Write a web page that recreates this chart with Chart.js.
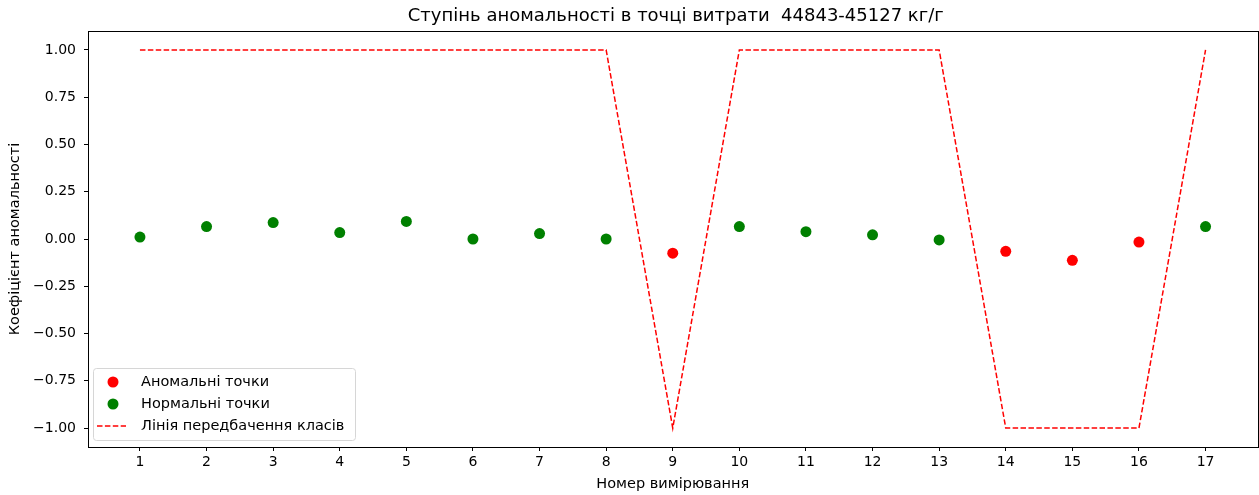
<!DOCTYPE html>
<html>
<head>
<meta charset="utf-8">
<script src="https://cdn.jsdelivr.net/npm/chart.js@4"></script>
<style>
  html, body { margin: 0; padding: 0; background: #fff; overflow: hidden; }
  #wrap { width: 1263px; height: 495px; position: relative; }
</style>
</head>
<body>
<div id="wrap"><canvas id="chart"></canvas></div>
<script>
(function () {
    'use strict';

    const TITLE = 'Ступінь аномальності в точці витрати  44843-45127 кг/г';
    const measurements = [1, 2, 3, 4, 5, 6, 7, 8, 9, 10, 11, 12, 13, 14, 15, 16, 17];
    const anomalyScores = [0.01, 0.066, 0.087, 0.034, 0.093, 0.0, 0.029, 0.0, -0.075, 0.066, 0.039, 0.022, -0.005, -0.065, -0.113, -0.016, 0.066];
    const predictedClass = [1, 1, 1, 1, 1, 1, 1, 1, -1, 1, 1, 1, 1, -1, -1, -1, 1];
    const yTicks = [-1.0, -0.75, -0.5, -0.25, 0.0, 0.25, 0.5, 0.75, 1.0];

    const FONT = "'DejaVu Sans', sans-serif";
    const RED = 'rgb(255, 0, 0)';
    const GREEN = 'rgb(0, 128, 0)';

    const anomalous = [];
    const normal = [];
    measurements.forEach(function (m, i) {
        const p = { x: m, y: anomalyScores[i] };
        if (predictedClass[i] === -1) anomalous.push(p); else normal.push(p);
    });
    const predLine = measurements.map((m, i) => ({ x: m, y: predictedClass[i] }));

    // рамка і заголовок по центру області графіка
    const frame = {
        id: 'frame',
        afterDatasetsDraw(chart) {
            const a = chart.chartArea;
            const ctx = chart.ctx;
            ctx.save();
            ctx.strokeStyle = '#000';
            ctx.lineWidth = 1;
            ctx.strokeRect(Math.round(a.left) + 0.5, Math.round(a.top) + 0.5, Math.round(a.right - a.left), Math.round(a.bottom - a.top));
            ctx.font = '18px ' + FONT;
            ctx.fillStyle = '#000';
            ctx.textAlign = 'center';
            ctx.textBaseline = 'middle';
            ctx.fillText(TITLE, (a.left + a.right) / 2 + 3, 16);
            ctx.restore();
        }
    };

    const legendBox = {
        id: 'legendBox',
        afterDraw(chart) {
            const a = chart.chartArea;
            const ctx = chart.ctx;
            const x = a.left + 5, y = a.bottom - 79, w = 262, h = 72;
            ctx.save();
            ctx.fillStyle = 'rgba(255,255,255,0.8)';
            ctx.strokeStyle = '#d6d6d6';
            ctx.lineWidth = 1;
            ctx.beginPath();
            ctx.roundRect(x + 0.5, y + 0.5, w, h, 3);
            ctx.fill();
            ctx.stroke();
            ctx.font = '14.5px ' + FONT;
            ctx.textBaseline = 'middle';
            const rows = [
                { kind: 'dot', color: RED, text: 'Аномальні точки' },
                { kind: 'dot', color: GREEN, text: 'Нормальні точки' },
                { kind: 'line', color: RED, text: 'Лінія передбачення класів' }
            ];
            rows.forEach(function (r, i) {
                const cy = y + 14 + i * 22;
                if (r.kind === 'dot') {
                    ctx.fillStyle = r.color;
                    ctx.beginPath();
                    ctx.arc(x + 20, cy, 5.5, 0, Math.PI * 2);
                    ctx.fill();
                } else {
                    ctx.strokeStyle = r.color;
                    ctx.lineWidth = 1.5;
                    ctx.setLineDash([5.5, 2.4]);
                    ctx.beginPath();
                    ctx.moveTo(x + 4, cy);
                    ctx.lineTo(x + 33, cy);
                    ctx.stroke();
                    ctx.setLineDash([]);
                }
                ctx.fillStyle = '#000';
                ctx.fillText(r.text, x + 48, cy);
            });
            ctx.restore();
        }
    };

    new Chart(document.getElementById('chart'), {
        type: 'scatter',
        data: {
            datasets: [{
                label: 'Аномальні точки',
                data: anomalous,
                backgroundColor: RED,
                borderWidth: 0,
                pointRadius: 5.5,
                order: 1
            }, {
                label: 'Нормальні точки',
                data: normal,
                backgroundColor: GREEN,
                borderWidth: 0,
                pointRadius: 5.5,
                order: 2
            }, {
                type: 'line',
                label: 'Лінія передбачення класів',
                data: predLine,
                borderColor: RED,
                borderWidth: 1.5,
                borderDash: [5.5, 2.4],
                pointRadius: 0,
                fill: false,
                tension: 0,
                order: 0
            }]
        },
        options: {
            responsive: true,
            maintainAspectRatio: false,
            animation: false,
            layout: { padding: { left: 0, right: 0, top: 31, bottom: 0 } },
            plugins: {
                legend: { display: false },
                tooltip: { enabled: false },
                title: { display: false }
            },
            scales: {
                x: {
                    type: 'linear',
                    min: 0.22,
                    max: 17.78,
                    afterBuildTicks(axis) { axis.ticks = measurements.map(v => ({ value: v })); },
                    afterFit(axis) { axis.height = 48; axis.paddingLeft = 0; axis.paddingRight = 0; },
                    grid: { drawOnChartArea: false, drawTicks: true, tickLength: 4, color: '#000' },
                    border: { display: true, color: '#000' },
                    ticks: { color: '#000', font: { family: FONT, size: 14 }, padding: 3, maxRotation: 0 },
                    title: { display: true, text: 'Номер вимірювання', color: '#000', font: { family: FONT, size: 14.5 }, padding: { top: 0, bottom: 2 } }
                },
                y: {
                    min: -1.1,
                    max: 1.1,
                    afterBuildTicks(axis) { axis.ticks = yTicks.map(v => ({ value: v })); },
                    afterFit(axis) { axis.width = 88; axis.paddingTop = 0; axis.paddingBottom = 0; },
                    grid: { drawOnChartArea: false, drawTicks: true, tickLength: 4, color: '#000' },
                    border: { display: true, color: '#000' },
                    ticks: {
                        color: '#000',
                        font: { family: FONT, size: 14 },
                        padding: 8,
                        callback: v => (v < 0 ? '\u2212' : '') + Math.abs(v).toFixed(2)
                    },
                    title: { display: true, text: 'Коефіцієнт аномальності', color: '#000', font: { family: FONT, size: 14.5 }, padding: { top: 7, bottom: 0 } }
                }
            }
        },
        plugins: [frame, legendBox]
    });
})();
</script>
</body>
</html>
